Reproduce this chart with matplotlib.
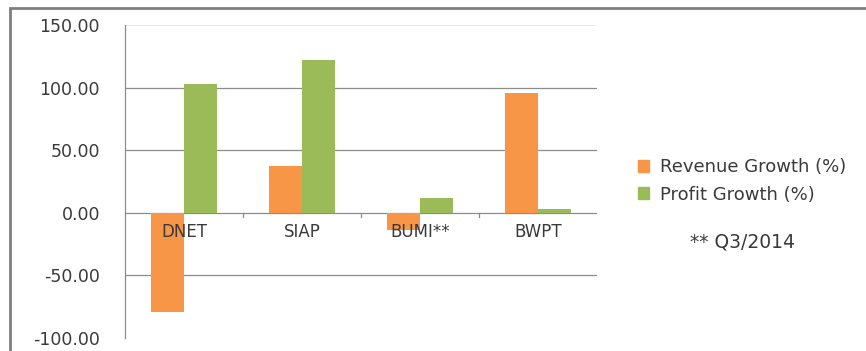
import numpy as np
import matplotlib.pyplot as plt
from matplotlib.patches import Rectangle, Patch

plt.rcParams['font.family'] = ['DejaVu Sans']

categories = ['DNET', 'SIAP', 'BUMI**', 'BWPT']
revenue_growth = [-79.0, 37.0, -14.0, 96.0]
profit_growth = [103.0, 122.0, 12.0, 3.0]
y_ticks = [-100, -50, 0, 50, 100, 150]
footnote = '** Q3/2014'

orange = '#F79646'
green = '#9BBB59'
grid_col = '#8c8c8c'
text_col = '#3a3a3a'

fig = plt.figure(figsize=(8.66, 3.51), dpi=100)
ax = fig.add_axes([125 / 866, 1 - 338 / 351, (597 - 125) / 866, (338 - 25) / 351])

x = np.arange(len(categories))
w = 0.28
ax.bar(x - w / 2, revenue_growth, width=w, color=orange, zorder=3)
ax.bar(x + w / 2, profit_growth, width=w, color=green, zorder=3)

ax.set_xlim(-0.5, len(categories) - 0.5)
ax.set_ylim(-100, 150)
ax.set_yticks(y_ticks)
ax.set_yticklabels([f'{v:.2f}' for v in y_ticks], fontsize=12.5, color=text_col)
ax.tick_params(axis='y', length=0, pad=18)

# horizontal gridlines
for v in y_ticks:
    lw = 0.9 if v not in (150, -100) else 0.6
    c = grid_col if v not in (150, -100) else '#e6e6e6'
    ax.axhline(v, color=c, lw=lw, zorder=1)

ax.set_xticks([])
for sp in ['top', 'right', 'bottom']:
    ax.spines[sp].set_visible(False)
ax.spines['left'].set_color(grid_col)
ax.spines['left'].set_linewidth(0.9)

# category labels near zero line, Excel style
for xi, lab in zip(x, categories):
    ax.text(xi, -8.5, lab, ha='center', va='top', fontsize=12, color=text_col, zorder=4)
# small ticks between categories on the zero line
for xi in x[:-1] + 0.5:
    ax.plot([xi, xi], [0, -3], color=grid_col, lw=0.9, zorder=2)

# legend
handles = [Patch(color=orange), Patch(color=green)]
fig.legend(handles, ['Revenue Growth (%)', 'Profit Growth (%)'],
           loc='center left', bbox_to_anchor=(622 / 866, 1 - 181 / 351),
           frameon=False, fontsize=13, handlelength=0.6, handleheight=0.6,
           handletextpad=0.6, labelspacing=0.5, labelcolor=text_col)
fig.text(742 / 866, 1 - 242 / 351, footnote, ha='center', va='center',
         fontsize=13.5, color=text_col)

# outer chart frame
fig.patches.append(Rectangle((10 / 866, -0.05), 1.0, 1 - 8 / 351 + 0.05,
                             transform=fig.transFigure, fill=False,
                             edgecolor='#7f7f7f', lw=2))

fig.savefig('out.png', dpi=100)
